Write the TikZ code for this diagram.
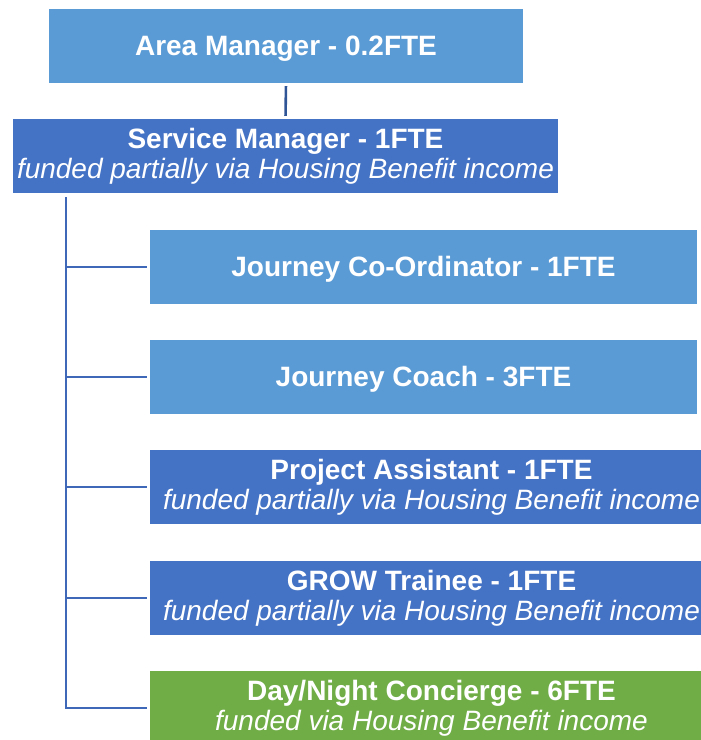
\documentclass[tikz,border=0pt]{standalone}
\usepackage{fontspec}
\setmainfont{Liberation Sans}
\usepackage{xcolor}
\definecolor{lightblue}{HTML}{5B9BD5}
\definecolor{darkblue}{HTML}{4472C4}
\definecolor{concgreen}{HTML}{70AD47}
\definecolor{linkblue}{HTML}{3F68B8}
\definecolor{topblue}{HTML}{2F5597}

\tikzset{
  post/.style={fill=#1, text=white, inner sep=0pt, align=center,
    minimum height=74pt, font=\fontsize{28}{30}\selectfont,
    execute at begin node={\rule{0pt}{24.5pt}}},
  link/.style={draw=linkblue, line width=2.6pt},
}

\begin{document}
\begin{tikzpicture}[x=1pt, y=-1pt]
        \useasboundingbox (0,0) rectangle (701,740);
        \node [post=lightblue, minimum width=474pt] (area) at (286,46) {\textbf{Area Manager - 0.2FTE}};
        \node [post=darkblue, minimum width=545pt] (service) at (285.5,156) {\textbf{Service Manager - 1FTE}\\\textit{funded partially via Housing Benefit income}};
        \node [post=lightblue, minimum width=547pt] (coord) at (423.5,267) {\textbf{Journey Co-Ordinator - 1FTE}};
        \node [post=lightblue, minimum width=547pt] (coach) at (423.5,377) {\textbf{Journey Coach - 3FTE}};
        % these three run past the right edge of the page
        \node [post=darkblue, minimum width=563pt] (assist) at (431.5,487) {\textbf{Project Assistant - 1FTE}\\\textit{funded partially via Housing Benefit income}};
        \node [post=darkblue, minimum width=563pt] (grow) at (431.5,598) {\textbf{GROW Trainee - 1FTE}\\\textit{funded partially via Housing Benefit income}};
        \node [post=concgreen, minimum width=563pt] (conc) at (431.5,708) {\textbf{Day/Night Concierge - 6FTE}\\\textit{funded via Housing Benefit income}};
        \coordinate (trunk) at (66,197);
        \draw [link, draw=topblue, shorten <=3pt, shorten >=3pt] (area.south) -- (service.north);
        \draw [link, shorten >=3pt] (trunk) |- (conc.west);
        \draw [link, shorten >=3pt] (trunk |- coord.west) -- (coord.west);
        \draw [link, shorten >=3pt] (trunk |- coach.west) -- (coach.west);
        \draw [link, shorten >=3pt] (trunk |- assist.west) -- (assist.west);
        \draw [link, shorten >=3pt] (trunk |- grow.west) -- (grow.west);
    \end{tikzpicture}
\end{document}
